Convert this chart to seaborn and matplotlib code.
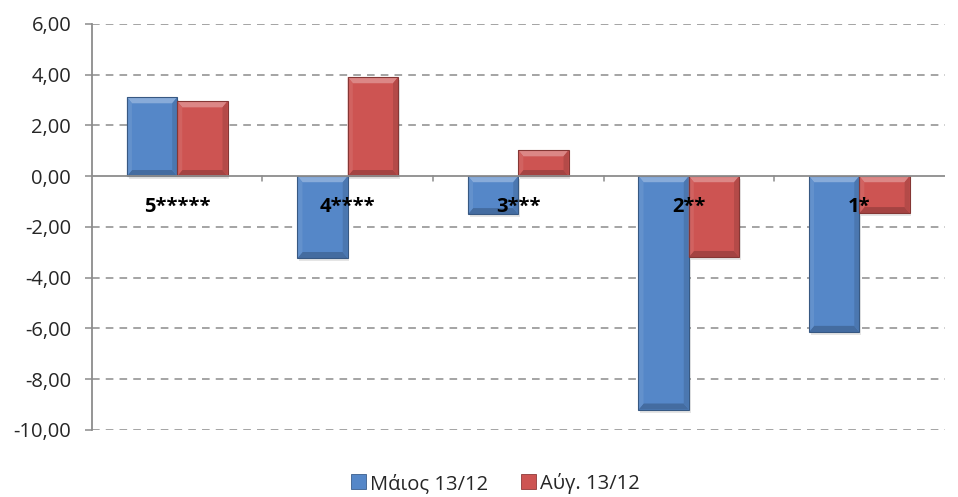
import matplotlib
matplotlib.use("Agg")
import matplotlib.pyplot as plt
import seaborn as sns
import pandas as pd
import numpy as np
from matplotlib.patches import Polygon, Rectangle

categories = ["5*****", "4****", "3***", "2**", "1*"]
series_names = ["Μάιος 13/12", "Αύγ. 13/12"]
may_values = [3.11, -3.23, -1.50, -9.20, -6.14]
aug_values = [2.95, 3.90, 1.02, -3.19, -1.46]
y_ticks = [6, 4, 2, 0, -2, -4, -6, -8, -10]

colors = ["#5587C8", "#CD5452"]

df = pd.DataFrame({
    "cat": categories * 2,
    "series": [series_names[0]] * 5 + [series_names[1]] * 5,
    "value": may_values + aug_values,
})

sns.set_theme(style="white")
plt.rcParams["font.family"] = ["Open Sans", "DejaVu Sans"]

fig = plt.figure(figsize=(9.58, 4.97), dpi=100)
ax = fig.add_axes([0.096, 0.135, 0.89, 0.817])

sns.barplot(data=df, x="cat", y="value", hue="series", order=categories,
            hue_order=series_names, palette=colors, width=0.59, ax=ax,
            legend=False, saturation=1, edgecolor="none", zorder=3)

ax.set_ylim(-10, 6)
ax.set_xlim(-0.5, len(categories) - 0.5)
ax.set_yticks(y_ticks)
ax.set_yticklabels([f"{v:.2f}".replace(".", ",") for v in y_ticks], fontsize=14.5)
ax.set_xlabel("")
ax.set_ylabel("")

# dashed gridlines
for v in y_ticks:
    if v != 0:
        ax.axhline(v, color="#8c8c8c", lw=1.1, ls=(0, (5, 4)), zorder=1)
ax.axhline(0, color="#8c8c8c", lw=1.3, zorder=4)

for s in ["top", "right", "bottom"]:
    ax.spines[s].set_visible(False)
ax.spines["left"].set_color("#8c8c8c")
ax.spines["left"].set_linewidth(1.3)
ax.tick_params(axis="y", length=5, color="#8c8c8c", width=1.1, left=True, pad=10)
ax.tick_params(axis="x", bottom=False, labelbottom=False)

# category boundary ticks along the zero line
for b in np.arange(0.5, len(categories) - 0.5, 1):
    ax.plot([b, b], [0, -0.2], color="#8c8c8c", lw=1.1, zorder=4)

# category labels next to the zero line
for i, c in enumerate(categories):
    ax.text(i, -1.2, c, ha="center", va="center", fontsize=14.5,
            fontweight="bold", color="black", zorder=6)

# bevelled look for each bar
def shade(hexcol, f):
    rgb = np.array(matplotlib.colors.to_rgb(hexcol))
    if f > 0:
        rgb = rgb + (1 - rgb) * f
    else:
        rgb = rgb * (1 + f)
    return tuple(np.clip(rgb, 0, 1))

for patch in list(ax.patches):
    x0, y0 = patch.get_x(), patch.get_y()
    w, h = patch.get_width(), patch.get_height()
    if w == 0:
        continue
    base = matplotlib.colors.to_hex(patch.get_facecolor())
    ylo, yhi = min(y0, y0 + h), max(y0, y0 + h)
    bw = w * 0.1
    bh = min(0.24, (yhi - ylo) / 2)
    # shadow
    ax.add_patch(Rectangle((x0 + 0.01, ylo - 0.12), w, yhi - ylo, color="#000000",
                           alpha=0.10, zorder=2, lw=0))
    # top highlight
    ax.add_patch(Polygon([(x0, yhi), (x0 + w, yhi), (x0 + w - bw, yhi - bh),
                          (x0 + bw, yhi - bh)], color=shade(base, 0.3), zorder=3.5, lw=0))
    # bottom dark
    ax.add_patch(Polygon([(x0, ylo), (x0 + w, ylo), (x0 + w - bw, ylo + bh),
                          (x0 + bw, ylo + bh)], color=shade(base, -0.2), zorder=3.5, lw=0))
    # left side
    ax.add_patch(Polygon([(x0, ylo), (x0 + bw, ylo + bh), (x0 + bw, yhi - bh),
                          (x0, yhi)], color=shade(base, 0.08), zorder=3.5, lw=0))
    # right side
    ax.add_patch(Polygon([(x0 + w, ylo), (x0 + w - bw, ylo + bh), (x0 + w - bw, yhi - bh),
                          (x0 + w, yhi)], color=shade(base, -0.12), zorder=3.5, lw=0))
    ax.add_patch(Rectangle((x0, ylo), w, yhi - ylo, fill=False,
                           edgecolor=shade(base, -0.35), lw=0.8, zorder=3.6))

handles = [Rectangle((0, 0), 1, 1, facecolor=c, edgecolor=shade(c, -0.3), lw=0.6)
           for c in colors]
fig.legend(handles, series_names, loc="lower center", ncol=2, frameon=False,
           fontsize=14.5, bbox_to_anchor=(0.517, -0.03), handlelength=0.75,
           handleheight=0.75, handletextpad=0.2, columnspacing=1.6)

fig.savefig("out.png", dpi=100)
